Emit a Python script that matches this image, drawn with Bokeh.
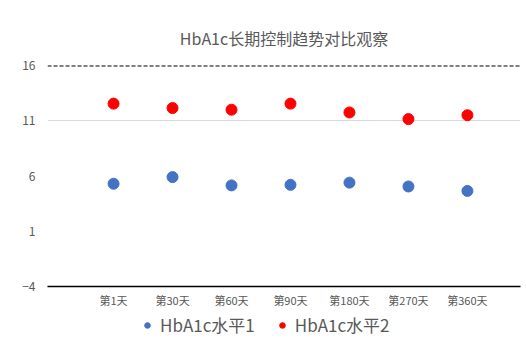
from bokeh.plotting import figure
from bokeh.layouts import column
from bokeh.models import ColumnDataSource, Range1d, FixedTicker, Span, Legend, LegendItem
from bokeh.embed import file_html
from bokeh.resources import INLINE

title_text = "HbA1c长期控制趋势对比观察"
categories = ["第1天", "第30天", "第60天", "第90天", "第180天", "第270天", "第360天"]
series1_name = "HbA1c水平1"
series2_name = "HbA1c水平2"
series1 = [5.3, 5.9, 5.15, 5.2, 5.4, 5.05, 4.65]
series2 = [12.55, 12.15, 12.0, 12.55, 11.75, 11.15, 11.5]
y_ticks = [-4, 1, 6, 11, 16]

FONT = "Noto Sans CJK SC"
GREY = "#595959"
BLUE = "#4472C4"
RED = "#FF0000"

xs = list(range(1, len(categories) + 1))
src1 = ColumnDataSource(dict(x=xs, y=series1))
src2 = ColumnDataSource(dict(x=xs, y=series2))

p = figure(width=526, height=310, output_backend="svg", toolbar_location=None,
           x_range=Range1d(-0.12, 7.9), y_range=Range1d(-4, 16),
           min_border_left=47, min_border_right=6, min_border_top=65, min_border_bottom=23)
p.outline_line_color = None
p.background_fill_color = "white"
p.border_fill_color = "white"

p.title.text = title_text
p.title.align = "center"
p.title.text_font = FONT
p.title.text_font_size = "16px"
p.title.text_font_style = "normal"
p.title.text_color = GREY
p.title.standoff = 32

p.scatter("x", "y", source=src1, size=11, color=BLUE, marker="circle")
p.scatter("x", "y", source=src2, size=11, color=RED, marker="circle")

p.yaxis.ticker = FixedTicker(ticks=y_ticks)
p.yaxis.axis_line_color = None
p.yaxis.major_tick_line_color = None
p.yaxis.minor_tick_line_color = None
p.yaxis.major_label_standoff = 6
p.yaxis.major_label_text_font = FONT
p.yaxis.major_label_text_font_size = "12px"
p.yaxis.major_label_text_color = GREY

p.xaxis.ticker = FixedTicker(ticks=xs)
p.xaxis.major_label_overrides = {x: c for x, c in zip(xs, categories)}
p.xaxis.axis_line_color = "black"
p.xaxis.axis_line_width = 1.5
p.xaxis.major_tick_line_color = None
p.xaxis.minor_tick_line_color = None
p.xaxis.major_tick_out = 0
p.xaxis.major_tick_in = 0
p.xaxis.major_label_standoff = 5
p.xaxis.major_label_text_font = FONT
p.xaxis.major_label_text_font_size = "11px"
p.xaxis.major_label_text_color = GREY

p.xgrid.grid_line_color = None
p.ygrid.ticker = FixedTicker(ticks=[11])
p.ygrid.grid_line_color = "#d9d9d9"
p.ygrid.grid_line_width = 1

top = Span(location=16, dimension="width", line_color="black", line_width=2, line_dash="4 2")
p.add_layout(top)

# legend strip below the chart
lg = figure(width=526, height=34, output_backend="svg", toolbar_location=None,
            x_range=Range1d(100, 101), y_range=Range1d(100, 101),
            min_border=0)
lg.axis.visible = False
lg.grid.visible = False
lg.outline_line_color = None
lr1 = lg.scatter("x", "y", source=src1, size=11, color=BLUE, marker="circle")
lr2 = lg.scatter("x", "y", source=src2, size=11, color=RED, marker="circle")
legend = Legend(items=[LegendItem(label=series1_name, renderers=[lr1]),
                       LegendItem(label=series2_name, renderers=[lr2])],
                orientation="horizontal", location=(93, 7))
legend.label_text_font = FONT
legend.label_text_font_size = "17px"
legend.label_text_color = GREY
legend.border_line_color = None
legend.background_fill_alpha = 0
legend.spacing = 20
legend.label_standoff = 6
legend.glyph_width = 14
legend.glyph_height = 20
legend.label_height = 20
legend.padding = 0
legend.margin = 0
lg.add_layout(legend, "center")

layout = column(p, lg, spacing=0)
open("out.html", "w").write(file_html(layout, INLINE))
